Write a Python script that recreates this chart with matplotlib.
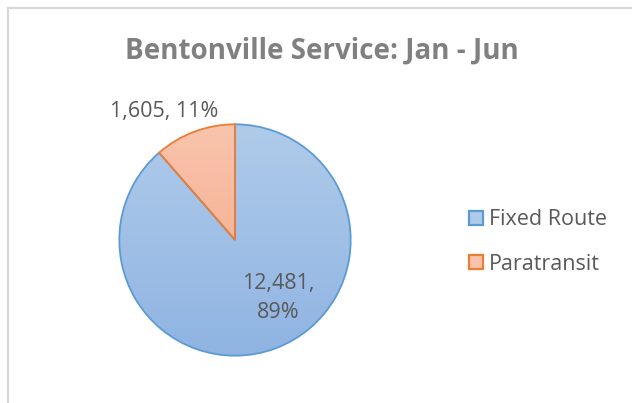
import matplotlib
matplotlib.use("Agg")
import matplotlib.pyplot as plt
import numpy as np
from matplotlib.patches import Patch
from matplotlib.colors import LinearSegmentedColormap

categories = ["Fixed Route", "Paratransit"]
values = [12481, 1605]
labels = ["12,481,\n89%", "1,605, 11%"]
title = "Bentonville Service: Jan - Jun"

W, H = 632, 403
fig = plt.figure(figsize=(W/100, H/100), dpi=100)
fig.patch.set_facecolor("white")

FONT = ["Open Sans", "DejaVu Sans"]

# chart border (top & left visible)
fig.add_artist(plt.Line2D([7.5/W, 7.5/W], [0, 1 - 8/H], transform=fig.transFigure,
                          color="#d9d9d9", lw=1.6))
fig.add_artist(plt.Line2D([7.5/W, 1], [1 - 8/H, 1 - 8/H], transform=fig.transFigure,
                          color="#d9d9d9", lw=1.6))

cx, cy, r = 235, 240, 118
ax = fig.add_axes([(cx - r)/W, (H - cy - r)/H, 2*r/W, 2*r/H])
wedges, _ = ax.pie(values, startangle=90, counterclock=False, radius=1,
                   wedgeprops=dict(linewidth=1.3))
edge_colors = ["#5b9bd5", "#ed7d31"]
grad = [("#b0cbea", "#8fb4e2"), ("#f9c4ad", "#f4a683")]
grad_img = np.linspace(0, 1, 256).reshape(-1, 1)
for w, ec, (c1, c2) in zip(wedges, edge_colors, grad):
    w.set_facecolor("none")
    w.set_edgecolor(ec)
    w.set_zorder(3)
    cmap = LinearSegmentedColormap.from_list("g", [c1, c2])
    im = ax.imshow(grad_img, extent=[-1, 1, -1, 1], cmap=cmap, aspect="auto",
                   origin="upper", zorder=2)
    im.set_clip_path(w)
ax.set_xlim(-1.02, 1.02)
ax.set_ylim(-1.02, 1.02)
ax.set_aspect("equal")
ax.axis("off")

fig.text(322/W, 1 - 51/H, title, ha="center", va="center", fontsize=20,
         fontweight="bold", color="#808080", family=FONT)

fig.text(164/W, 1 - 112/H, labels[1], ha="center", va="center", fontsize=15.5,
         color="#595959", family=FONT)
fig.text(278/W, 1 - 298/H, labels[0], ha="center", va="center", fontsize=15.5,
         color="#595959", family=FONT, linespacing=1.55)

handles = [Patch(facecolor=c1, edgecolor=ec, lw=1.6) for ec, (c1, c2) in zip(edge_colors, grad)]
leg = fig.legend(handles, categories, loc="upper left",
                 bbox_to_anchor=(465/W, 1 - 205/H), frameon=False,
                 prop={"family": FONT, "size": 15.5}, labelcolor="#595959",
                 handlelength=0.62, handleheight=0.62, handletextpad=0.3,
                 labelspacing=1.1, borderaxespad=0, borderpad=0.2)

fig.savefig("out.png", dpi=100, facecolor="white")
